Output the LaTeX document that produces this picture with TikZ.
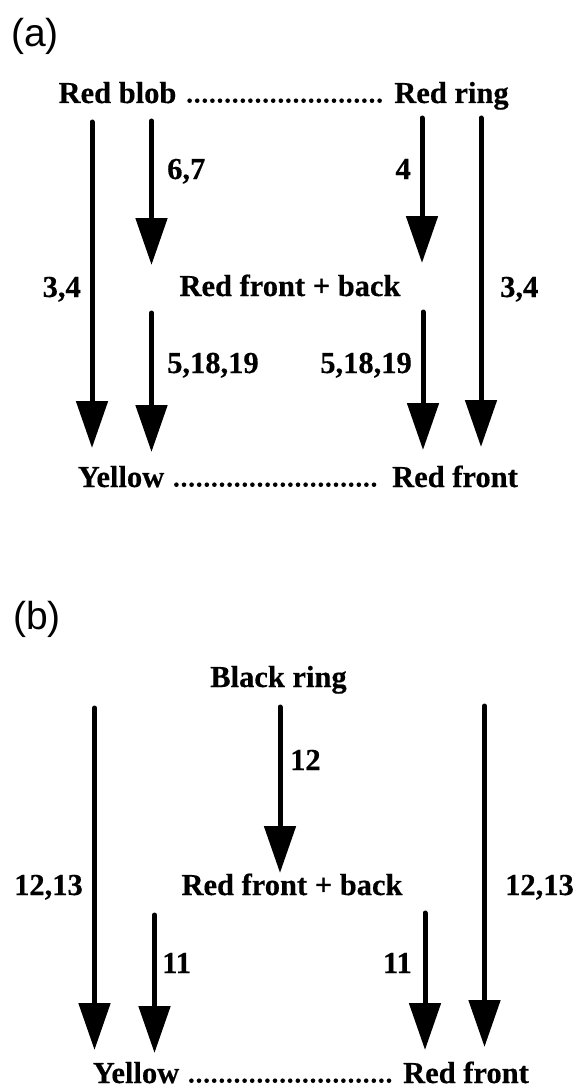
\documentclass[tikz,border=0pt]{standalone}
\usepackage{fontspec}
\setmainfont{Liberation Serif}[BoldFeatures={FakeBold=0.4}]
\setsansfont{Liberation Sans}
\usetikzlibrary{arrows.meta}
\begin{document}
\begin{tikzpicture}[x=1pt, y=-1pt,
  state/.style={font=\bfseries\fontsize{30.5}{30.5}\selectfont, inner sep=0pt, anchor=base},
  num/.style={font=\bfseries\fontsize{30.5}{30.5}\selectfont, inner sep=0pt},
  panel/.style={font=\sffamily\fontsize{39}{39}\selectfont, inner sep=0pt},
  flow/.style={line width=5pt, line cap=round,
    -{Triangle[length=47pt, width=31pt]}},
  leader/.style={line width=4.6pt, line cap=round, dash pattern=on 0pt off 7.6pt}]
\useasboundingbox (0,0) rectangle (577,1089);

% ---------------- panel (a) ----------------
\node[panel] (pa) at (35,36) {(a)};

\node[state] (blob)   at (117.5,103) {Red blob};
\node[state] (ring)   at (451.5,103) {Red ring};
\node[state] (fbA)    at (290,296)   {Red front + back};
\node[state] (yelA)   at (121,487)   {Yellow};
\node[state] (rfA)    at (455,487)   {Red front};

\draw[leader] ([xshift=13pt,yshift=2.3pt]blob.base east) -- ([xshift=-11pt,yshift=2.3pt]ring.base west);
\draw[leader] ([xshift=12pt,yshift=2.3pt]yelA.base east) -- ([xshift=-11pt,yshift=2.3pt]rfA.base west);

\coordinate (a1s) at (92,122);    \coordinate (a1e) at (92,448);
\coordinate (a2s) at (151.5,121); \coordinate (a2e) at (151.5,265);
\coordinate (a3s) at (422,118);   \coordinate (a3e) at (422,263);
\coordinate (a4s) at (481,118);   \coordinate (a4e) at (481,447);
\coordinate (a5s) at (151.5,313); \coordinate (a5e) at (151.5,452);
\coordinate (a6s) at (423,312);   \coordinate (a6e) at (423,450);

\draw[flow] (a1s) -- (a1e);
\draw[flow] (a2s) -- (a2e);
\draw[flow] (a3s) -- (a3e);
\draw[flow] (a4s) -- (a4e);
\draw[flow] (a5s) -- (a5e);
\draw[flow] (a6s) -- (a6e);

\node[num, anchor=base east] (l34a) at (81,297)  {3,4};
\node[num, anchor=base west] (r34a) at (500,297) {3,4};
\node[num, anchor=base west] (l67)  at (167,179) {6,7};
\node[num, anchor=base east] (r4)   at (411,179) {4};
\node[num, anchor=base west] (l5a)  at (167,373) {5,18,19};
\node[num, anchor=base east] (r5a)  at (412,373) {5,18,19};

% ---------------- panel (b) ----------------
\node[panel] (pb) at (37,619) {(b)};

\node[state] (black) at (278.5,687) {Black ring};
\node[state] (fbB)   at (292,895)   {Red front + back};
\node[state] (yelB)  at (136,1083)  {Yellow};
\node[state] (rfB)   at (466,1083)  {Red front};

\draw[leader] ([xshift=12pt,yshift=2.3pt]yelB.base east) -- ([xshift=-11pt,yshift=2.3pt]rfB.base west);

\coordinate (b1s) at (94.5,708);  \coordinate (b1e) at (94.5,1050);
\coordinate (b2s) at (280,707);   \coordinate (b2e) at (280,873);
\coordinate (b3s) at (484.5,706); \coordinate (b3e) at (484.5,1047);
\coordinate (b4s) at (154.5,915); \coordinate (b4e) at (154.5,1053);
\coordinate (b5s) at (425,913);   \coordinate (b5e) at (425,1050);

\draw[flow] (b1s) -- (b1e);
\draw[flow] (b2s) -- (b2e);
\draw[flow] (b3s) -- (b3e);
\draw[flow] (b4s) -- (b4e);
\draw[flow] (b5s) -- (b5e);

\node[num, anchor=base west] (l12)   at (290,770) {12};
\node[num, anchor=base east] (l1213) at (83,895)  {12,13};
\node[num, anchor=base west] (r1213) at (505,895) {12,13};
\node[num, anchor=base west] (l11)   at (162,973) {11};
\node[num, anchor=base east] (r11)   at (412,973) {11};
\end{tikzpicture}
\end{document}
